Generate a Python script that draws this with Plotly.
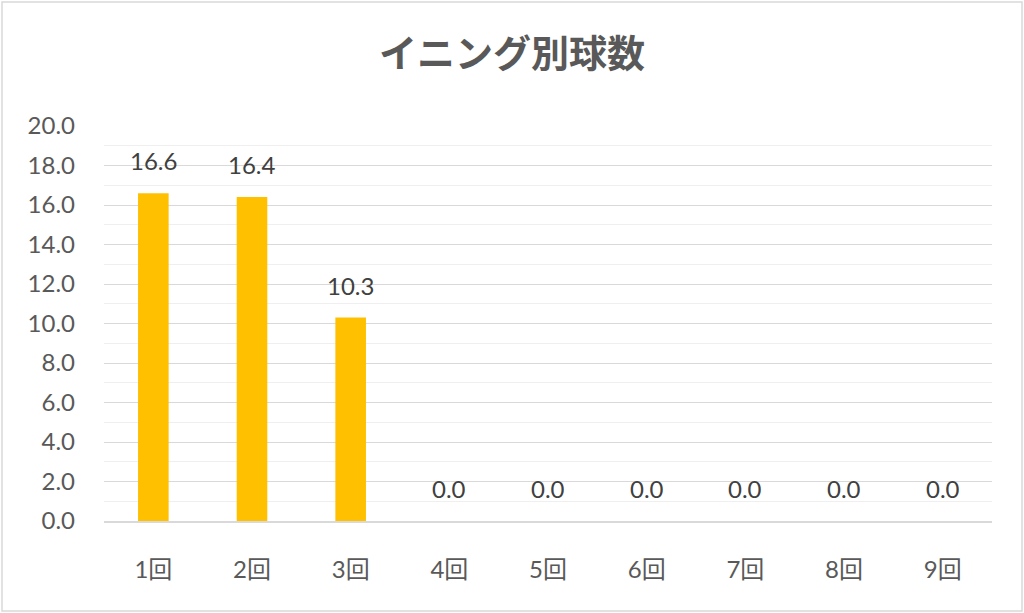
import plotly.graph_objects as go

# イニング別の平均球数
innings = ["1回", "2回", "3回", "4回", "5回", "6回", "7回", "8回", "9回"]
pitches = [16.6, 16.4, 10.3, 0.0, 0.0, 0.0, 0.0, 0.0, 0.0]

font_family = "Lato, Noto Sans CJK JP, sans-serif"

fig = go.Figure()
fig.add_trace(go.Bar(
    x=innings, y=pitches,
    marker=dict(color="#FFC000", line=dict(width=0)),
))

# data labels above each bar
for name, val in zip(innings, pitches):
    fig.add_annotation(x=name, y=val, text=f"{val:.1f}", showarrow=False,
                       yanchor="bottom", yshift=16,
                       font=dict(size=24, color="#404040", family=font_family))

# plot area in pixels: x 104..992, y 126..521
pw, ph = 888, 395
fig.update_layout(
    width=1024, height=613,
    margin=dict(l=104, r=32, t=126, b=92),
    paper_bgcolor="white", plot_bgcolor="white",
    title=dict(text="<b>イニング別球数</b>", x=0.5, xanchor="center", y=1 - 54 / 613, yanchor="middle",
               font=dict(size=38, color="#595959", family="Noto Sans CJK JP")),
    bargap=0.69,
    showlegend=False,
    font=dict(family=font_family, color="#595959"),
    shapes=[dict(type="rect", xref="paper", yref="paper",
                 x0=-102 / pw, x1=1 + 30 / pw, y0=-90 / ph, y1=1 + 124 / ph,
                 line=dict(color="#d9d9d9", width=1.5), layer="below")],
)
fig.update_xaxes(
    showline=True, linecolor="#d9d9d9", linewidth=1.5,
    ticks="", tickfont=dict(size=24, color="#595959", family=font_family),
    ticklabelstandoff=26,
)
fig.update_yaxes(
    range=[0, 20], dtick=2, tickformat=".1f",
    showgrid=True, gridcolor="#d9d9d9", gridwidth=1.2,
    minor=dict(dtick=1, showgrid=True, gridcolor="#efefef", gridwidth=1),
    zeroline=False, showline=False,
    tickfont=dict(size=24, color="#595959", family=font_family),
    ticklabelstandoff=28,
)

fig.write_html("out.html", config={"displayModeBar": False},
               post_script="document.body.style.margin='0';")
